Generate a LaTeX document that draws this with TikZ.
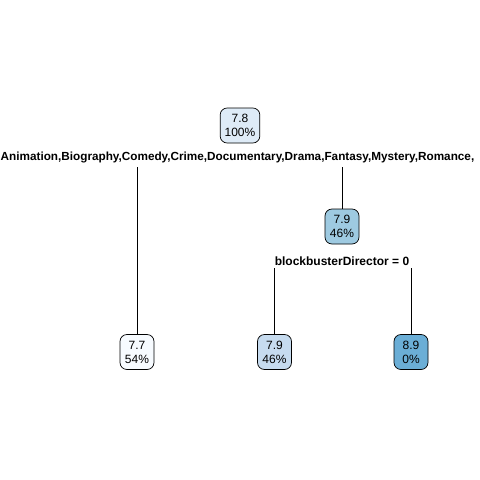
\documentclass[tikz,border=0pt]{standalone}
\usepackage{fontspec}
\setmainfont{Liberation Sans}
\begin{document}
\begin{tikzpicture}[x=1pt,y=-1pt,
  treebox/.style={draw=black, line width=0.7pt, rounded corners=7pt, align=center,
    inner xsep=4.5pt, inner ysep=3pt, minimum width=34pt, minimum height=35pt,
    font=\fontsize{12}{14}\selectfont},
  splitlbl/.style={font=\fontsize{12}{14}\selectfont\bfseries, inner sep=0pt},
  branch/.style={draw=black, line width=0.8pt}]
\useasboundingbox (0,0) rectangle (480,480);
\fill[white] (0,0) rectangle (480,480);
\definecolor{croot}{RGB}{222,235,247}
\definecolor{cmid}{RGB}{158,202,225}
\definecolor{cl1}{RGB}{247,251,255}
\definecolor{cl2}{RGB}{198,219,239}
\definecolor{cl3}{RGB}{107,174,214}
\node[treebox, fill=croot] (root) at (240,125.5) {7.8\\100\%};
\node[splitlbl, anchor=west, font=\fontsize{11.75}{14}\selectfont\bfseries] (s1) at (0.5,157) {Animation,Biography,Comedy,Crime,Documentary,Drama,Fantasy,Mystery,Romance,};
\node[treebox, fill=cmid] (mid) at (342,226.5) {7.9\\46\%};
\node[splitlbl] (s2) at (342,261) {blockbusterDirector = 0};
\node[treebox, fill=cl1] (l1) at (137,352) {7.7\\54\%};
\node[treebox, fill=cl2] (l2) at (274.5,352) {7.9\\46\%};
\node[treebox, fill=cl3] (l3) at (411,352) {8.9\\0\%};
\coordinate (b1) at (137,167);
\coordinate (b2) at (342,167);
\coordinate (b3) at (274.5,268);
\coordinate (b4) at (411,268);
\draw[branch] (b1) -- (l1.north);
\draw[branch] (b2) -- (mid.north);
\draw[branch] (b3) -- (l2.north);
\draw[branch] (b4) -- (l3.north);
\end{tikzpicture}
\end{document}
